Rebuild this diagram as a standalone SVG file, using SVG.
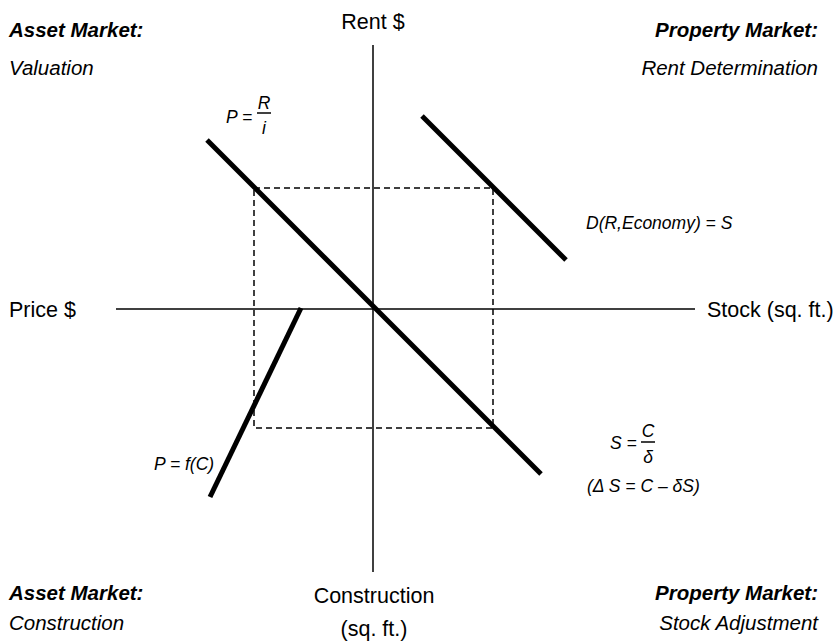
<svg xmlns="http://www.w3.org/2000/svg" width="834" height="644" viewBox="0 0 834 644">
<style>
text{font-family:"Liberation Sans",Arial,sans-serif;fill:#000}
.lab{font-size:21.5px}
.hd{font-size:20.5px;font-weight:bold;font-style:italic}
.sub{font-size:20.5px;font-style:italic}
.f{font-size:17.5px;font-style:italic}
.axis{stroke:#000;stroke-width:1.5;fill:none}
.curve{stroke:#000;stroke-width:5;fill:none}
.dash{stroke:#000;stroke-width:1.5;fill:none;stroke-dasharray:6 4}
.bar{stroke:#000;stroke-width:1.5}
</style>
<rect width="834" height="644" fill="#fff"/>
<g id="axes">
<line class="axis" x1="116" y1="309" x2="695" y2="309"/>
<line class="axis" x1="373" y1="45" x2="373" y2="572"/>
</g>
<g id="connectors">
<rect class="dash" x="254" y="188" width="239" height="240"/>
<line class="curve" x1="207" y1="140" x2="541" y2="474"/>
<line class="curve" x1="422" y1="116" x2="566" y2="260"/>
<line class="curve" x1="301" y1="308" x2="210" y2="497"/>
</g>
<g id="axis-labels">
<text class="lab" x="373" y="29" text-anchor="middle">Rent $</text>
<text class="lab" x="9" y="317">Price $</text>
<text class="lab" x="707" y="317">Stock (sq. ft.)</text>
<text class="lab" x="374" y="603" text-anchor="middle">Construction</text>
<text class="lab" x="374" y="636" text-anchor="middle">(sq. ft.)</text>
</g>
<g id="quadrant-tl">
<text class="hd" x="9" y="37">Asset Market:</text>
<text class="sub" x="9" y="75">Valuation</text>
</g>
<g id="quadrant-tr">
<text class="hd" x="818" y="37" text-anchor="end">Property Market:</text>
<text class="sub" x="818" y="75" text-anchor="end">Rent Determination</text>
</g>
<g id="quadrant-bl">
<text class="hd" x="9" y="600">Asset Market:</text>
<text class="sub" x="9" y="630">Construction</text>
</g>
<g id="quadrant-br">
<text class="hd" x="818" y="600" text-anchor="end">Property Market:</text>
<text class="sub" x="818" y="630" text-anchor="end">Stock Adjustment</text>
</g>
<g id="formula-valuation">
<text class="f" x="226" y="123">P =</text>
<text class="f" x="264" y="109" text-anchor="middle">R</text>
<line class="bar" x1="257" y1="113" x2="271" y2="113"/>
<text class="f" x="264" y="134" text-anchor="middle">i</text>
</g>
<g id="formula-rent">
<text class="f" x="586" y="229">D(R,Economy) = S</text>
</g>
<g id="formula-stock">
<text class="f" x="610" y="449">S =</text>
<text class="f" x="648" y="437" text-anchor="middle">C</text>
<line class="bar" x1="641" y1="442" x2="655" y2="442"/>
<text class="f" x="648" y="463" text-anchor="middle">δ</text>
<text class="f" x="587" y="492">(Δ S = C – δS)</text>
</g>
<g id="formula-construction">
<text class="f" x="154" y="470">P = f(C)</text>
</g>
</svg>
